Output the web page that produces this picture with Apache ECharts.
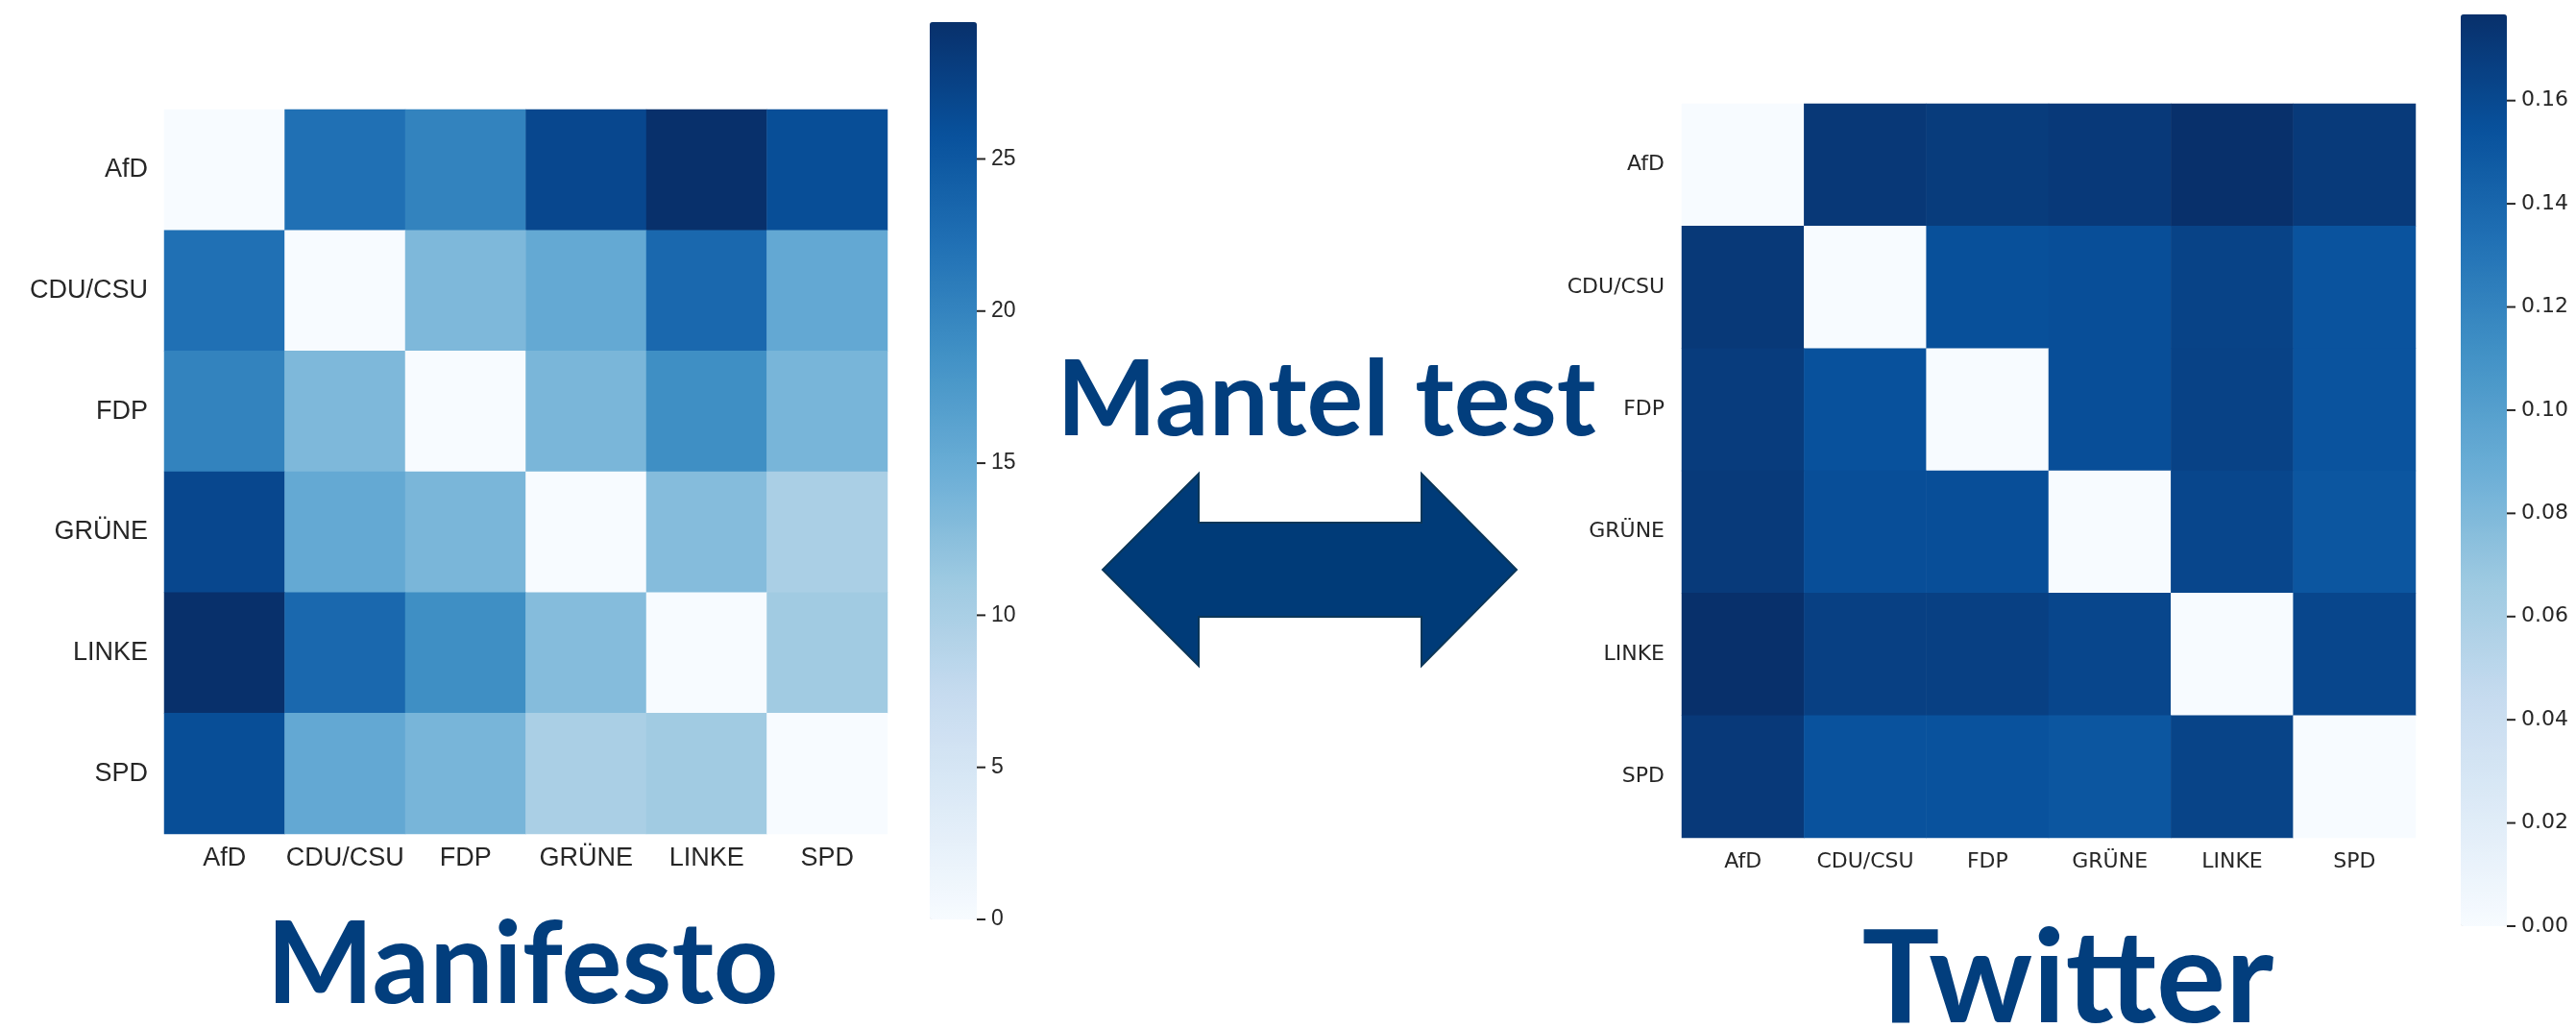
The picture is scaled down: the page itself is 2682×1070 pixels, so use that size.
<html>
<head>
<meta charset="utf-8">
<style>
    *{box-sizing: border-box;}
    body,html{margin:0;padding:0;background:#fff;}
    #main{width:2682px;height:1070px;}
</style>
<script src="https://cdn.jsdelivr.net/npm/echarts@6/dist/echarts.min.js"></script>
</head>
<body>
<div id="main"></div>
<script>
    // parties, same order on both axes (rows top -> bottom, columns left -> right)
    var parties = ['AfD', 'CDU/CSU', 'FDP', 'GRÜNE', 'LINKE', 'SPD'];

    // manifesto distances
    var manifestoAfD    = [0, 22.2, 20.1, 26.9, 29.5, 26.2];
    var manifestoCDU    = [22.2, 0, 13.4, 15.4, 23.2, 15.5];
    var manifestoFDP    = [20.1, 13.4, 0, 13.7, 18.8, 13.8];
    var manifestoGRUENE = [26.9, 15.4, 13.7, 0, 12.9, 10.0];
    var manifestoLINKE  = [29.5, 23.2, 18.8, 12.9, 0, 10.8];
    var manifestoSPD    = [26.2, 15.5, 13.8, 10.0, 10.8, 0];

    // twitter distances
    var twitterAfD    = [0, 0.1714, 0.1690, 0.1705, 0.1767, 0.1700];
    var twitterCDU    = [0.1710, 0, 0.1553, 0.1566, 0.1640, 0.1532];
    var twitterFDP    = [0.1687, 0.1546, 0, 0.1566, 0.1647, 0.1532];
    var twitterGRUENE = [0.1700, 0.1566, 0.1566, 0, 0.1620, 0.1511];
    var twitterLINKE  = [0.1767, 0.1660, 0.1660, 0.1620, 0, 0.1620];
    var twitterSPD    = [0.1705, 0.1540, 0.1540, 0.1511, 0.1635, 0];

    // colorbars
    var manifestoMax = 29.5;
    var manifestoStep = 5;
    var manifestoTicks = [0, 5, 10, 15, 20, 25];
    var twitterMax = 0.1767;
    var twitterStep = 0.02;
    var twitterTicks = [0, 0.02, 0.04, 0.06, 0.08, 0.10, 0.12, 0.14, 0.16];

    var blues = ['#f7fbff','#deebf7','#c6dbef','#9ecae1','#6baed6','#4292c6','#2171b5','#08519c','#08306b'];
    var titleColor = '#023e7d';
    var inkColor = '#262626';

    var manifesto = [manifestoAfD, manifestoCDU, manifestoFDP, manifestoGRUENE, manifestoLINKE, manifestoSPD];
    var twitter = [twitterAfD, twitterCDU, twitterFDP, twitterGRUENE, twitterLINKE, twitterSPD];

    // colorbar boxes (left, top, width, height)
    var leftBar = {x: 968, y: 23, w: 49, h: 934};
    var rightBar = {x: 2562, y: 15, w: 48, h: 949};

    function toCells(m){
        var out = [];
        for(var i=0;i<m.length;i++){
            for(var j=0;j<m[i].length;j++){
                out.push([j, i, m[i][j]]);
            }
        }
        return out;
    }

    function catX(grid, font, size, margin){
        return {
            type: 'category', gridIndex: grid, data: parties, position: 'bottom',
            axisLine: {show: false}, axisTick: {show: false}, splitArea: {show: false},
            axisLabel: {interval: 0, color: inkColor, fontFamily: font, fontSize: size, margin: margin}
        };
    }
    function catY(grid, font, size, margin){
        return {
            type: 'category', gridIndex: grid, data: parties, inverse: true,
            axisLine: {show: false}, axisTick: {show: false}, splitArea: {show: false},
            axisLabel: {interval: 0, color: inkColor, fontFamily: font, fontSize: size, margin: margin}
        };
    }
    // the tick axis only runs up to the last tick, so its grid is cut to that share of the bar
    function barGrid(bar, max, ticks){
        var last = ticks[ticks.length-1];
        var hh = bar.h * last / max;
        return {left: bar.x, top: bar.y + bar.h - hh, width: bar.w, height: hh};
    }
    // tick marks are drawn as a small dash in front of each label
    function barAxis(grid, ticks, step, font, size, digits){
        return {
            type: 'value', gridIndex: grid, position: 'right',
            min: ticks[0], max: ticks[ticks.length-1], interval: step,
            axisLine: {show: false}, splitLine: {show: false}, axisTick: {show: false},
            axisLabel: {
                margin: 0, color: inkColor, fontFamily: font, fontSize: size,
                formatter: function(v){ return '{t| }{n|' + v.toFixed(digits) + '}'; },
                rich: {
                    t: {width: 9, height: 2, backgroundColor: inkColor, verticalAlign: 'middle'},
                    n: {padding: [0, 0, 0, 6], color: inkColor, fontFamily: font, fontSize: size, verticalAlign: 'middle'}
                }
            }
        };
    }
    function bar(seriesIndex, max, box){
        return {
            type: 'continuous', seriesIndex: seriesIndex, min: 0, max: max,
            calculable: false, hoverLink: false, showLabel: false,
            left: box.x, top: box.y, itemWidth: box.w, itemHeight: box.h, padding: 0,
            indicatorSize: 0, indicatorStyle: {opacity: 0}, handleStyle: {opacity: 0},
            inRange: {color: blues}
        };
    }

    var chart = echarts.init(document.getElementById('main'));

    var option = {
        animation: false,
        backgroundColor: '#ffffff',
        title: [
            {text: 'Mantel test', left: 1376, top: 358, textAlign: 'center',
             textStyle: {color: titleColor, fontFamily: 'Lato', fontWeight: 'bold', fontSize: 110}},
            {text: 'Manifesto', left: 539, top: 942, textAlign: 'center',
             textStyle: {color: titleColor, fontFamily: 'Lato', fontWeight: 'bold', fontSize: 118}},
            {text: 'Twitter', left: 2148, top: 948, textAlign: 'center',
             textStyle: {color: titleColor, fontFamily: 'Lato', fontWeight: 'bold', fontSize: 135}}
        ],
        grid: [
            {left: 171, top: 114, width: 753, height: 754},
            {left: 1751, top: 108, width: 764, height: 764},
            barGrid(leftBar, manifestoMax, manifestoTicks),
            barGrid(rightBar, twitterMax, twitterTicks)
        ],
        xAxis: [
            catX(0, 'Liberation Sans', 27, 12),
            catX(1, 'DejaVu Sans', 22, 14),
            {type: 'value', gridIndex: 2, show: false},
            {type: 'value', gridIndex: 3, show: false}
        ],
        yAxis: [
            catY(0, 'Liberation Sans', 27, 17),
            catY(1, 'DejaVu Sans', 22, 18),
            barAxis(2, manifestoTicks, manifestoStep, 'Liberation Sans', 23, 0),
            barAxis(3, twitterTicks, twitterStep, 'DejaVu Sans', 22, 2)
        ],
        visualMap: [
            bar(0, manifestoMax, leftBar),
            bar(1, twitterMax, rightBar)
        ],
        graphic: [
            {
                type: 'polygon', silent: true,
                shape: {points: [[1148,593],[1248,493],[1248,544],[1480,544],[1480,493],[1579,593],[1480,693],[1480,642],[1248,642],[1248,693]]},
                style: {fill: '#003b78', stroke: '#0b3658', lineWidth: 2}
            }
        ],
        series: [
            {type: 'heatmap', xAxisIndex: 0, yAxisIndex: 0, data: toCells(manifesto), emphasis: {disabled: true}, progressive: 0},
            {type: 'heatmap', xAxisIndex: 1, yAxisIndex: 1, data: toCells(twitter), emphasis: {disabled: true}, progressive: 0}
        ]
    };

    chart.setOption(option);
</script>
</body>
</html>
